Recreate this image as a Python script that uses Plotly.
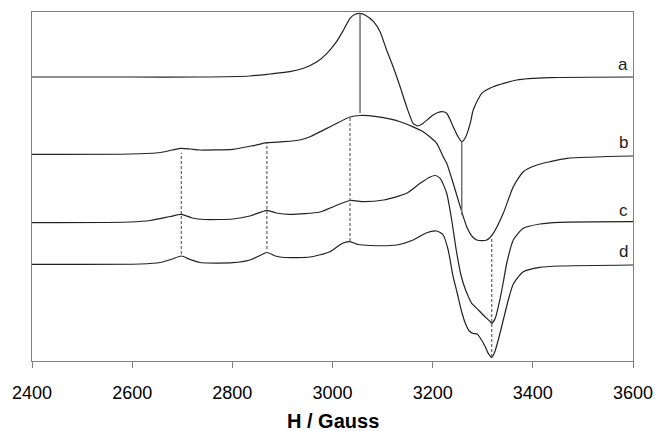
import plotly.graph_objects as go

# ---- data (H in Gauss, intensity in arbitrary units, curves offset) ----
H_a = [2400, 2596, 2735, 2835, 2875, 2915, 2942, 2969, 2989, 3008, 3022, 3035, 3045, 3055,
       3065, 3082, 3095, 3108, 3121, 3135, 3148, 3161, 3171, 3181, 3201, 3218, 3228, 3241,
       3251, 3258, 3265, 3275, 3281, 3298, 3321, 3368, 3434, 3600]
I_a = [284, 284, 284, 285, 287, 289.3, 292.7, 299.3, 307.7, 319.3, 331, 342.7, 346.7, 347.7,
       346, 339.3, 329.3, 311, 294.3, 274.3, 254.3, 237.7, 235, 237.7, 246, 249.3, 247.7, 234.3,
       224, 219.3, 223, 237.7, 251, 267.7, 274.3, 281, 283.3, 284]

H_b = [2400, 2596, 2656, 2680, 2698, 2716, 2735, 2801, 2841, 2869, 2902, 2935, 2955, 3002,
       3035, 3055, 3088, 3135, 3181, 3208, 3221, 3228, 3241, 3255, 3268, 3279, 3288, 3299,
       3308, 3321, 3341, 3361, 3381, 3408, 3434, 3468, 3600]
I_b = [206.7, 207, 208.5, 211, 212.7, 212, 211, 211.7, 215.3, 218.3, 219.3, 221, 224.3, 236,
       244, 245.5, 244.3, 239.3, 229.3, 217.7, 204.3, 197.7, 177.7, 154.3, 134.3, 124.5, 121, 120.3,
       121, 127.7, 147.7, 174.3, 189.3, 196, 199.3, 202.7, 205]

H_c = [2400, 2596, 2636, 2676, 2698, 2720, 2745, 2801, 2835, 2869, 2888, 2915, 2975, 3005,
       3035, 3062, 3102, 3148, 3175, 3195, 3205, 3215, 3228, 3238, 3248, 3257, 3265, 3271,
       3278, 3288, 3301, 3315, 3318, 3325, 3334, 3340, 3348, 3361, 3381, 3414, 3454, 3600]
I_c = [138.3, 139, 140.5, 144.5, 146.7, 143, 141.5, 142, 145, 150.7, 148, 146.7, 149, 155,
       160.5, 159.3, 161, 167.7, 177.7, 184, 185.5, 182.7, 167.7, 141, 108, 85, 72, 64.7,
       57.7, 52.7, 46, 39.3, 37.7, 42.7, 61, 76, 98, 121, 132.7, 137, 138.7, 139.3]

H_d = [2400, 2616, 2656, 2680, 2698, 2716, 2735, 2801, 2835, 2855, 2869, 2886, 2905, 2955,
       2995, 3019, 3035, 3051, 3075, 3128, 3161, 3188, 3208, 3221, 3231, 3241, 3249, 3257,
       3265, 3273, 3281, 3289, 3295, 3305, 3311, 3318, 3324, 3331, 3341, 3351, 3361, 3381,
       3414, 3454, 3600]
I_d = [96.7, 97, 98.5, 102, 105, 101.5, 98.5, 98.3, 101, 105.5, 108.5, 105, 103.5, 104,
       109.3, 117.5, 119.3, 116.5, 115.5, 116, 121, 128.3, 130, 126, 111, 84, 68, 51,
       38, 30, 27.5, 27, 23, 14.3, 7.7, 3.7, 9.3, 21, 41, 61, 77, 89.3,
       93.7, 95, 96]

# marker lines: field position, lower and upper intensity
solid_H = [3055, 3258]
solid_lo = [248, 146]
solid_hi = [347.7, 219.3]
dashed_H = [2698, 2869, 3035, 3318]
dashed_lo = [107, 112, 120, 4]
dashed_hi = [208, 218, 244, 122]

labels = ["a", "b", "c", "d"]
label_y = [297, 218.5, 151, 110]

tick_vals = [2400, 2600, 2800, 3000, 3200, 3400, 3600]

fig = go.Figure()

curve_color = "#222222"
for Hs, Is in [(H_a, I_a), (H_b, I_b), (H_c, I_c), (H_d, I_d)]:
    fig.add_trace(go.Scatter(x=Hs, y=Is, mode="lines",
                             line=dict(color=curve_color, width=1.2, shape="spline", smoothing=0.6),
                             showlegend=False, hoverinfo="skip"))

for h, lo, hi in zip(solid_H, solid_lo, solid_hi):
    fig.add_trace(go.Scatter(x=[h, h], y=[lo, hi], mode="lines",
                             line=dict(color="#707070", width=1.5),
                             showlegend=False, hoverinfo="skip"))

for h, lo, hi in zip(dashed_H, dashed_lo, dashed_hi):
    fig.add_trace(go.Scatter(x=[h, h], y=[lo, hi], mode="lines",
                             line=dict(color="#444444", width=1, dash="3px,2px"),
                             showlegend=False, hoverinfo="skip"))

for lab, ly in zip(labels, label_y):
    fig.add_annotation(x=3600, y=ly, xref="x", yref="y", text=lab, showarrow=False,
                       xanchor="right", yanchor="middle", xshift=-3,
                       font=dict(family="Liberation Sans, Arial", size=17, color="#222222"))

fig.add_annotation(x=0.5, y=-0.172, xref="paper", yref="paper", text="<b>H / Gauss</b>",
                   showarrow=False, xanchor="center", yanchor="middle",
                   font=dict(family="Liberation Sans, Arial", size=20, color="#000000"))

fig.update_layout(
    template="none",
    width=655, height=431,
    margin=dict(l=32, r=22, t=12, b=70, autoexpand=False),
    plot_bgcolor="white", paper_bgcolor="white",
    font=dict(family="Liberation Sans, Arial", color="#000000"),
    xaxis=dict(range=[2400, 3600], tickvals=tick_vals, ticks="outside", ticklen=6,
               tickcolor="#808080", tickwidth=1, showline=True, linecolor="#808080",
               linewidth=1.3, mirror=True, showgrid=False, zeroline=False, automargin=False,
               ticklabelstandoff=9,
               tickfont=dict(size=18, family="Liberation Sans, Arial", color="#000000")),
    yaxis=dict(range=[0, 349], showticklabels=False, ticks="", showline=True, automargin=False,
               linecolor="#808080", linewidth=1.3, mirror=True, showgrid=False, zeroline=False),
)

fig.write_html("out.html", config={"responsive": False})
